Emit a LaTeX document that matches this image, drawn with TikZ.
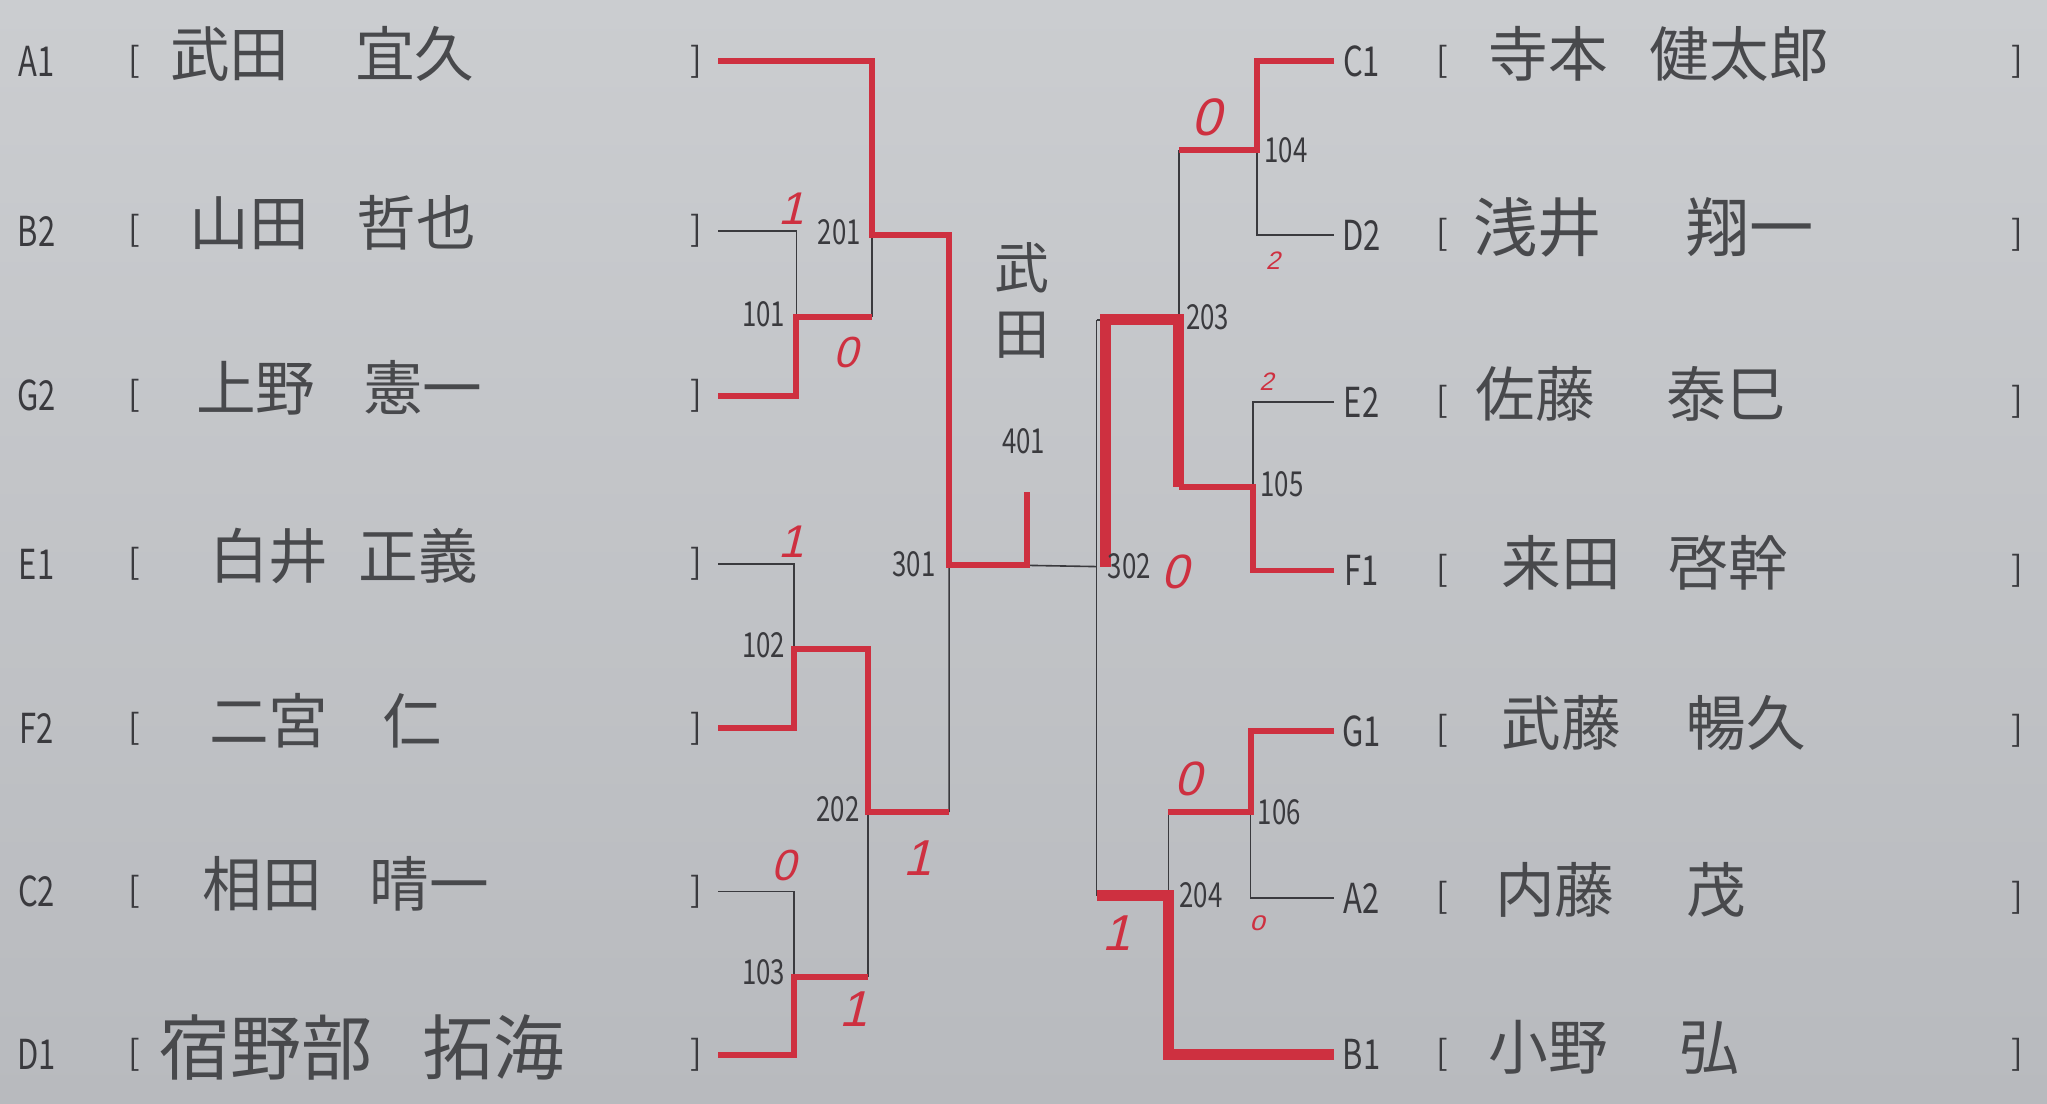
\documentclass[tikz,border=0pt]{standalone}
\usepackage{fontspec}
\setmainfont{Noto Sans CJK JP}
\newfontfamily\hand[FakeSlant=0.25]{Liberation Sans}
\usetikzlibrary{positioning}

\definecolor{paper}{RGB}{203,205,208}
\definecolor{paperdark}{RGB}{184,186,190}
\definecolor{ink}{RGB}{58,58,62}
\definecolor{pen}{RGB}{206,48,64}

\newcommand{\nar}[1]{\scalebox{.75}[1]{#1}}

\tikzset{
  seed/.style={text=ink, font=\fontsize{18}{18}\selectfont, inner sep=0pt},
  brk/.style={text=ink, font=\fontsize{15}{15}\selectfont, inner sep=0pt},
  player/.style={text=ink!90!paper, anchor=west, font=\fontsize{26}{26}\selectfont, inner sep=0pt},
  match/.style={text=ink, font=\fontsize{15}{15}\selectfont, inner sep=0pt},
  score/.style={text=pen, font=\hand, inner sep=0pt},
  bracket/.style={draw=ink, line width=.7pt},
  win/.style={draw=pen, line width=2.6pt},
  final/.style={draw=pen, line width=4.8pt}
}

\begin{document}
\begin{tikzpicture}[x=0.2mm, y=-0.2mm]
\shade[top color=paper, bottom color=paperdark] (0,0) rectangle (1568,845);
\useasboundingbox (0,0) rectangle (1568,845);

\foreach \s/\x/\nm/\y in {A1/130/{武田\hspace{1.1em}宜久}/47, B2/145/{山田\hspace{.8em}哲也}/177,
    G2/150/{上野\hspace{.8em}憲一}/303, E1/160/{白井\hspace{.5em}正義}/432, F2/160/{二宮\hspace{.9em}仁}/558,
    C2/155/{相田\hspace{.8em}晴一}/683, D1/122/{\fontsize{31}{31}\selectfont 宿野部\hspace{.7em}拓海}/808}{
  \node[seed] (\s) at (28,\y) {\nar{\s}};
  \node[brk] (l\s) at (103,\y) {[};
  \node[player] (n\s) at (\x,\y-6) {\nm};
  \node[brk] (r\s) at (533,\y) {]};
  \coordinate (e\s) at (550,\y);
}
\foreach \s/\x/\nm/\y in {C1/1140/{寺本\hspace{.7em}健太郎\hspace{0pt}}/47,
    D2/1128/{\fontsize{28}{28}\selectfont 浅井\hspace{1.3em}翔一}/180,
    E2/1130/{佐藤\hspace{1.2em}泰巳}/308, F1/1150/{来田\hspace{.8em}啓幹}/437, G1/1150/{武藤\hspace{1.1em}暢久}/560,
    A2/1145/{内藤\hspace{1.2em}茂}/688, B1/1140/{小野\hspace{1.2em}弘}/808}{
  \node[seed] (\s) at (1043,\y) {\nar{\s}};
  \node[brk] (l\s) at (1105,\y) {[};
  \node[player] (n\s) at (\x,\y-6) {\nm};
  \node[brk] (r\s) at (1545,\y) {]};
  \coordinate (e\s) at (1022,\y);
}

\coordinate (j101) at (610,243);
\coordinate (j102) at (608,497);
\coordinate (j103) at (608,748);
\coordinate (j201) at (668,180);
\coordinate (j202) at (665,622);
\coordinate (j301) at (727,432);
\coordinate (j401) at (787,433);
\coordinate (j302) at (840,434);
\coordinate (j203) at (903,245);
\coordinate (j204) at (895,686);
\coordinate (j104) at (963,115);
\coordinate (j105) at (960,373);
\coordinate (j106) at (958,622);

\draw[bracket] (eB2) -| (j101) |- (eG2) (j101) -- (j101 -| j201);
\draw[bracket] (eE1) -| (j102) |- (eF2) (j102) -- (j102 -| j202);
\draw[bracket] (eC2) -| (j103) |- (eD1) (j103) -- (j103 -| j202);
\draw[bracket] (eA1) -| (j201) |- (j101 -| j201) (j201) -- (j201 -| j301);
\draw[bracket] (j102 -| j202) -- (j103 -| j202) (j202) -- (j202 -| j301);
\draw[bracket] (j201 -| j301) -- (j202 -| j301) (j301) -- (j302);
\draw[bracket] (eC1) -| (j104) |- (eD2) (j104) -- (j104 -| j203);
\draw[bracket] (eE2) -| (j105) |- (eF1) (j105) -- (j105 -| j203);
\draw[bracket] (eG1) -| (j106) |- (eA2) (j106) -- (j106 -| j204);
\draw[bracket] (j104 -| j203) -- (j105 -| j203) (j203) -- (j203 -| j302);
\draw[bracket] (j106 -| j204) |- (eB1) (j204) -- (j204 -| j302);
\draw[bracket] (j203 -| j302) -- (j204 -| j302);

\draw[win] (eA1) -| (j201) -- (j201 -| j301) |- (j401) -- ++(0,-56);
\draw[win] (eG2) -| (j101) -- (j101 -| j201);
\draw[win] (eF2) -| (j102) -- (j102 -| j202) |- (j202 -| j301);
\draw[win] (eD1) -| (j103) -- (j103 -| j202);
\draw[win] (eC1) -| (j104) -- (j104 -| j203);
\draw[win] (eF1) -| (j105) -- (j105 -| j203);
\draw[final] (j105 -| j203) |- ([xshift=4]j203 -| j302) -- ([xshift=4]j302);
\draw[win] (eG1) -| (j106) -- (j106 -| j204);
\draw[final] (eB1) -| (j204) -- (j204 -| j302);

\foreach \m/\x/\y in {101/585/241, 102/585/494, 103/585/745, 201/643/178, 202/642/620, 301/700/432,
    104/985/115, 105/982/371, 106/980/622, 203/925/243, 204/920/686, 302/865/434, 401/784/338}
  \node[match] (m\m) at (\x,\y) {\nar{\m}};
\node[player, anchor=center, align=center, font=\fontsize{24}{29}\selectfont] (champ) at (783,230) {武\\田};

\foreach \x/\y/\t/\f [count=\i] in {606/160/1/20, 648/270/0/19, 606/415/1/20, 600/663/0/19, 654/773/1/22,
    703/657/1/22, 924/90/0/23, 975/200/2/11, 970/292/2/11, 900/438/0/21, 910/597/0/21, 855/715/1/22, 963/707/o/12}
  \node[score, font=\hand\fontsize{\f}{\f}\selectfont] (s\i) at (\x,\y) {\t};
\end{tikzpicture}
\end{document}
